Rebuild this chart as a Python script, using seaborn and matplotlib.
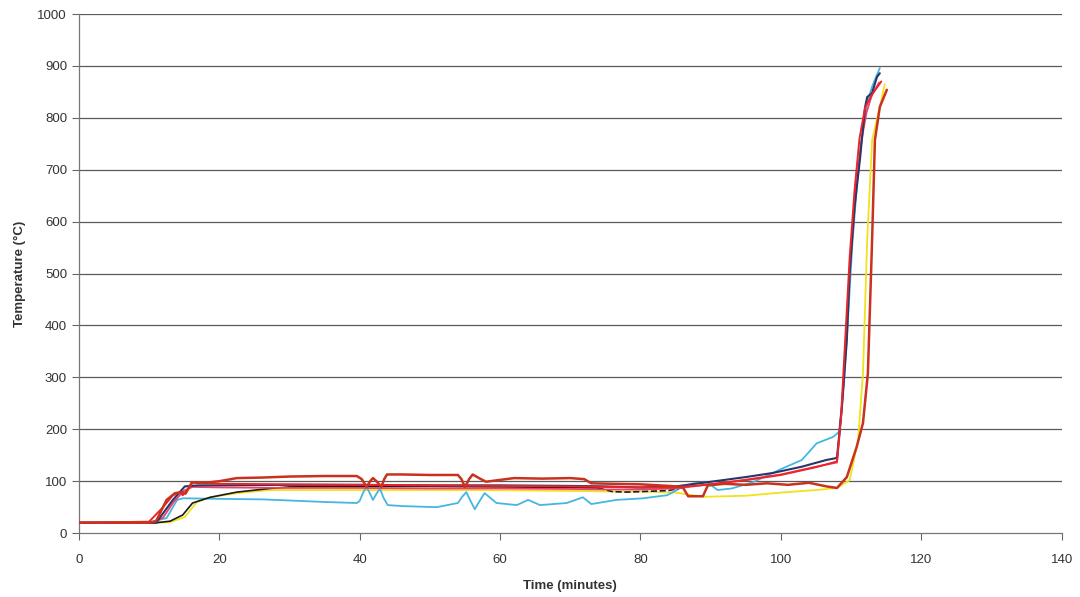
import matplotlib
matplotlib.use("Agg")
import matplotlib.pyplot as plt
import seaborn as sns
import pandas as pd

# ---- data (time in minutes, temperature in °C) ----
darkred_t = [0, 10, 11, 12.5, 13.7, 14.7, 15.2, 16.1, 18, 20, 22.5, 26, 30, 35, 39.6, 40.3, 41, 41.5, 41.9, 42.4, 43.1, 43.5, 43.9, 46, 50, 54, 54.5, 55, 55.6, 56.1, 57, 58, 62, 66, 70, 72, 73, 76, 80, 84, 86, 86.8, 88.9, 89.6, 92, 95, 98, 101, 104, 106.5, 108, 109.4, 110.8, 111.7, 112.4, 113, 113.4, 114.1, 115.1]
darkred_T = [20, 20, 23, 64, 77, 79, 76, 98, 97, 100, 106, 107, 109, 110, 110, 104, 89, 100, 106, 100, 89, 104, 113, 113, 112, 112, 104, 89, 104, 113, 106, 99, 106, 105, 106, 104, 96, 95, 94, 91, 89, 71, 71, 92, 95, 93, 96, 93, 97, 90, 87, 108, 166, 212, 308, 565, 757, 821, 854]

red_t = [0, 10, 12, 13.4, 14.4, 14.8, 15.8, 16.2, 20, 30, 40, 50, 60, 70, 75, 80, 85, 90, 95, 100, 105, 108, 108.6, 109.2, 109.8, 110.5, 111.2, 112, 113, 114.3]
red_T = [20, 22, 50, 73, 79, 73, 89, 97, 95, 94, 93, 92, 91, 90, 89, 88, 88, 94, 102, 112, 127, 138, 230, 380, 530, 660, 760, 820, 845, 870]

pink_t = [0, 10.5, 12, 13.5, 15, 16.2, 20, 30, 40, 50, 60, 70, 75, 80, 85, 90, 95, 100, 105, 108, 108.7, 109.3, 110, 110.7, 111.4, 112.2, 113, 114]
pink_T = [20, 20, 30, 60, 82, 89, 88, 87, 87, 86, 86, 85, 84, 84, 86, 94, 103, 113, 128, 136, 240, 380, 540, 660, 750, 810, 845, 868]

navy_t = [0, 11, 11.5, 13.4, 15.1, 17, 20, 30, 40, 50, 60, 70, 75, 80, 85, 89.5, 95, 98.9, 103, 106.5, 107.7, 108, 108.7, 109.4, 109.8, 110.5, 111.3, 112, 112.3, 113, 113.7, 114.1]
navy_T = [20, 20, 29, 64, 90, 92, 92, 93, 93, 92, 92, 91, 90, 88, 90, 98, 108, 116, 128, 141, 144, 146, 243, 372, 501, 628, 724, 821, 840, 848, 879, 886]

black_t = [0, 11, 13, 14.8, 16.2, 18.7, 22.5, 27.2, 30, 40, 50, 60, 70, 74]
black_T = [20, 20, 23, 35, 58, 69, 79, 86, 89, 90, 90, 89, 88, 87]
black_dash_t = [74, 76, 78, 80, 82, 84, 86]
black_dash_T = [87, 80, 79, 80, 81, 82, 88]

cyan_t = [0, 10.1, 12.5, 14, 14.8, 15.4, 20, 26.2, 35, 39.6, 40, 40.5, 41, 41.4, 41.9, 42.4, 42.9, 43.4, 44, 46.2, 51, 54, 54.6, 55.2, 55.8, 56.4, 57.1, 57.8, 58.6, 59.5, 62.4, 64, 65.7, 69.5, 71.8, 73, 76.6, 80.3, 83.8, 86, 87.5, 89.5, 91, 93, 96, 100.3, 103, 105.1, 107.4, 108.3, 109, 109.6, 110.2, 110.9, 111.6, 112.3, 113, 113.6, 114.1]
cyan_T = [20, 21, 29, 64, 67, 67, 66, 65, 60, 58, 62, 78, 89, 78, 64, 76, 86, 68, 54, 52, 50, 58, 70, 79, 62, 46, 62, 77, 68, 58, 54, 64, 54, 58, 69, 56, 64, 67, 73, 89, 96, 98, 83, 86, 98, 125, 141, 173, 185, 195, 290, 420, 560, 680, 770, 830, 860, 880, 896]

yellow_t = [0, 11, 13, 15.1, 16.8, 18.7, 22.5, 27.2, 35, 45, 55, 65, 72, 76, 80, 85, 89, 95, 100, 105, 108, 109.8, 111, 111.7, 112.3, 113, 114.1, 114.8]
yellow_T = [20, 20, 21, 31, 60, 69, 77, 83, 83, 83, 83, 82, 81, 80, 80, 78, 70, 72, 78, 83, 87, 102, 179, 308, 565, 757, 821, 865]

x_ticks = [0, 20, 40, 60, 80, 100, 120, 140]
y_ticks = [0, 100, 200, 300, 400, 500, 600, 700, 800, 900, 1000]

series = [
    ("yellow", yellow_t, yellow_T, "#f2e21c", 1.3, "-"),
    ("cyan", cyan_t, cyan_T, "#45b6e2", 1.3, "-"),
    ("black", black_t, black_T, "#1a1a1a", 1.2, "-"),
    ("black_dash", black_dash_t, black_dash_T, "#1a1a1a", 1.2, "--"),
    ("pink", pink_t, pink_T, "#ef3f6a", 1.3, "-"),
    ("navy", navy_t, navy_T, "#2b3566", 1.5, "-"),
    ("red", red_t, red_T, "#e8262a", 1.4, "-"),
    ("darkred", darkred_t, darkred_T, "#c8321e", 1.8, "-"),
]

sns.set_theme(style="white")
plt.rcParams['font.family'] = ['Liberation Sans', 'DejaVu Sans']

fig = plt.figure(figsize=(10.8, 5.97), dpi=100)
ax = fig.add_axes([0.073, 0.107, 0.910, 0.8695])

for ygrid in y_ticks[1:]:
    ax.axhline(ygrid, color="#5a5a5a", lw=0.9, zorder=0)

for name, t, T, col, lw, ls in series:
    df = pd.DataFrame({"t": t, "T": T})
    sns.lineplot(data=df, x="t", y="T", ax=ax, color=col, lw=lw, linestyle=ls,
                 sort=False, estimator=None, zorder=3)

ax.set_xlim(0, 140)
ax.set_ylim(0, 1000)
ax.set_xticks(x_ticks)
ax.set_yticks(y_ticks)
ax.tick_params(axis="both", which="both", direction="out", length=5, width=0.8,
               color="#666666", labelsize=9.5, labelcolor="#333333", left=True, bottom=True)
ax.tick_params(axis="x", pad=10)
for s in ["top", "right"]:
    ax.spines[s].set_visible(False)
for s in ["left", "bottom"]:
    ax.spines[s].set_color("#777777")
    ax.spines[s].set_linewidth(0.9)

ax.set_xlabel("Time (minutes)", fontsize=9.5, fontweight="bold", color="#333333", labelpad=10)
ax.set_ylabel("Temperature (°C)", fontsize=9.5, fontweight="bold", color="#333333", labelpad=8)

fig.savefig("out.png", dpi=100, facecolor="white")
